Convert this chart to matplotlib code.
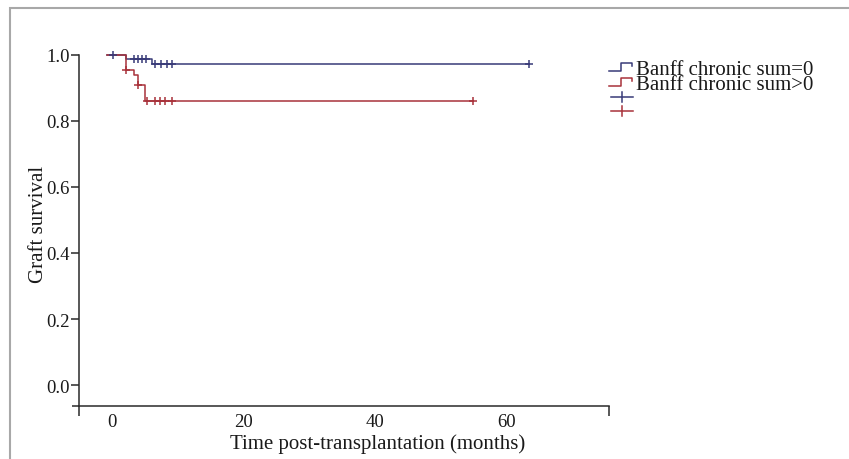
import matplotlib
matplotlib.use("Agg")
import matplotlib.pyplot as plt
from matplotlib.lines import Line2D
from matplotlib.patches import Rectangle

# Kaplan-Meier curves
start_time = -0.8
blue_event_t = [2.1, 6.1]
blue_surv = [0.986, 0.970]
blue_censor_t = [0.1, 3.3, 4.0, 4.6, 5.2, 6.6, 7.5, 8.3, 9.2, 63.3]
blue_end = 63.3

red_event_t = [2.1, 3.3, 4.0, 5.1]
red_surv = [0.954, 0.937, 0.908, 0.859]
red_censor_t = [2.1, 4.0, 5.4, 6.5, 7.3, 8.1, 9.1, 54.8]
red_end = 54.8

labels = ["Banff chronic sum=0", "Banff chronic sum>0"]
x_ticks = [0, 20, 40, 60]
y_ticks = [0.0, 0.2, 0.4, 0.6, 0.8, 1.0]

blue = "#383a78"
red = "#a8323a"
ink = "#1a1a1a"
font = "Liberation Serif"

W, H = 849, 460


def step_xy(events, surv, end):
    xs = [start_time] + events + [end]
    ys = [1.0] + surv + [surv[-1]]
    return xs, ys


def level_at(t, events, surv):
    lev = 1.0
    for e, s in zip(events, surv):
        if e <= t:
            lev = s
    return lev


def px(x, y):
    return x / W, 1 - y / H


fig = plt.figure(figsize=(W / 100, H / 100), dpi=100)
ax = fig.add_axes([79 / W, 1 - 407.3 / H, (609 - 79) / W, (407.3 - 55.5) / H])

bx, by = step_xy(blue_event_t, blue_surv, blue_end)
rx, ry = step_xy(red_event_t, red_surv, red_end)
ax.step(bx, by, where="post", color=blue, lw=1.1, clip_on=False, zorder=3)
ax.step(rx, ry, where="post", color=red, lw=1.1, clip_on=False, zorder=3)

ax.plot(blue_censor_t, [level_at(t, blue_event_t, blue_surv) for t in blue_censor_t],
        ls="none", marker="+", ms=6, mew=1.1, color=blue, clip_on=False, zorder=4)
ax.plot(red_censor_t, [level_at(t, red_event_t, red_surv) for t in red_censor_t],
        ls="none", marker="+", ms=6, mew=1.1, color=red, clip_on=False, zorder=4)

ax.set_xlim(-5, 75.5)
ax.set_ylim(-0.064, 1.0)
for s in ["top", "right"]:
    ax.spines[s].set_visible(False)
for s in ["left", "bottom"]:
    ax.spines[s].set_color("#2a2a2a")
    ax.spines[s].set_linewidth(1.1)
ax.spines["left"].set_bounds(-0.064, 1.0)

ax.set_xticks(x_ticks)
ax.set_xticklabels([str(v) for v in x_ticks])
ax.set_yticks(y_ticks)
ax.set_yticklabels([f"{v:.1f}" for v in y_ticks])
ax.set_xticks([-5, 75.5], minor=True)
ax.set_yticks([-0.064], minor=True)
ax.tick_params(axis="x", which="major", length=0, pad=5, labelsize=13.5, labelcolor=ink)
ax.tick_params(axis="x", which="minor", length=7, width=1.1, color="#2a2a2a", direction="out")
ax.tick_params(axis="y", which="major", length=5.5, width=1.1, pad=1, color="#2a2a2a",
               labelsize=13.5, labelcolor=ink)
ax.tick_params(axis="y", which="minor", length=5, width=1.1, color="#2a2a2a")
for lab in ax.get_xticklabels() + ax.get_yticklabels():
    lab.set_family(font)

ax.set_xlabel("Time post-transplantation (months)", fontsize=15, family=font, color=ink)
ax.set_ylabel("Graft survival", fontsize=15, family=font, color=ink)
ax.xaxis.set_label_coords(0.564, -0.076)
ax.yaxis.set_label_coords(-0.058, 0.519)

# legend drawn by hand
for i, c in enumerate([blue, red]):
    dy = i * 15
    xs = [609, 621, 621, 632, 632]
    ys = [72 + dy, 72 + dy, 64 + dy, 64 + dy, 67 + dy]
    fx = [px(a, 0)[0] for a in xs]
    fy = [px(0, b)[1] for b in ys]
    fig.add_artist(Line2D(fx, fy, color=c, lw=1.1))
    fig.text(*px(636, 75 + dy), labels[i], fontsize=15, family=font, color=ink,
             va="baseline", ha="left")
    cx, cy = px(622, 98 + i * 14)
    fig.add_artist(Line2D([px(611, 0)[0], px(633, 0)[0]], [cy, cy], color=c, lw=1.1))
    fig.add_artist(Line2D([cx, cx], [px(0, 93 + i * 14)[1], px(0, 103 + i * 14)[1]],
                          color=c, lw=1.1))

# outer frame
fx0, fy0 = px(9.5, 8.5)
fig.add_artist(Rectangle((fx0, -0.1), 1.2, fy0 + 0.1, fill=False, ec="#a8a8a8", lw=1.5,
                         transform=fig.transFigure))

fig.savefig("out.png", dpi=100)
